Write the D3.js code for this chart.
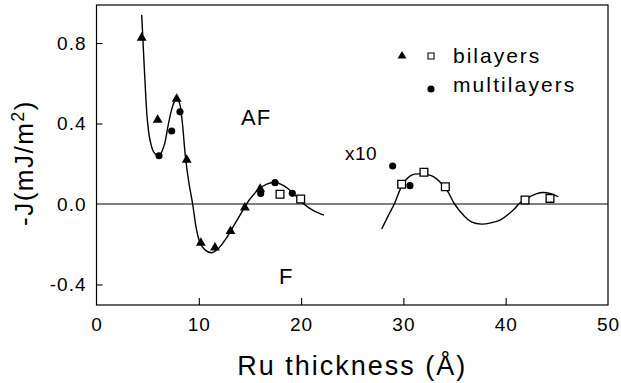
<!DOCTYPE html>
<html>
<head>
<meta charset="utf-8">
<script src="https://cdn.jsdelivr.net/npm/d3@7"></script>
<style>
  html, body { margin: 0; padding: 0; background: #fff; }
  svg { display: block; font-family: "Liberation Sans", Arial, Helvetica, sans-serif; }
</style>
</head>
<body>
<div id="chart"></div>
<script>
// data (x = Ru thickness in Å, y = -J in mJ/m2)
const triangles = [
    [4.42, 0.826], [5.98, 0.418], [7.84, 0.522], [8.82, 0.219],
    [10.2, -0.194], [11.58, -0.217], [13.1, -0.135], [14.5, -0.018], [16.0, 0.075]
];
const circles = [
    [6.11, 0.24], [7.35, 0.363], [8.16, 0.458], [16.05, 0.052],
    [17.45, 0.106], [19.14, 0.053], [28.95, 0.189], [30.64, 0.091]
];
const squares = [
    [17.94, 0.048], [19.96, 0.025], [29.83, 0.098], [32.01, 0.158],
    [34.1, 0.086], [41.89, 0.02], [44.33, 0.028]
];
// fitted curve, first branch (as drawn)
const fitShort = [
    [4.42, 0.94], [4.7, 0.65], [4.97, 0.418], [5.23, 0.318], [5.6, 0.258], [6.11, 0.24],
    [6.6, 0.29], [7.0, 0.39], [7.35, 0.47], [7.65, 0.512], [7.9, 0.522], [8.15, 0.495],
    [8.4, 0.40], [8.7, 0.23], [9.05, 0.1], [9.4, 0.0], [9.75, -0.12], [10.1, -0.19],
    [10.6, -0.228], [11.26, -0.242], [11.9, -0.222], [12.56, -0.18], [13.1, -0.135],
    [13.8, -0.075], [14.52, -0.013], [15.0, 0.025], [15.98, 0.078], [16.7, 0.1],
    [17.4, 0.108], [18.2, 0.094], [19.08, 0.061], [20.2, 0.003], [21.2, -0.033], [22.24, -0.055]
];
// fitted curve, second branch (x10 scale)
const fitLong = [
    [27.88, -0.124], [28.5, -0.06], [29.11, 0.0], [29.99, 0.103], [30.81, 0.144],
    [31.79, 0.149], [32.93, 0.136], [34.23, 0.07], [35.0, 0.0], [35.86, -0.055],
    [36.7, -0.09], [37.65, -0.1], [38.6, -0.093], [39.44, -0.08], [40.74, -0.03],
    [41.4, 0.006], [42.37, 0.036], [43.35, 0.056], [44.33, 0.053], [45.14, 0.036]
];
const xTicks = [0, 10, 20, 30, 40, 50];
const yTicks = [-0.4, 0.0, 0.4, 0.8];

const W = 621, H = 383;
const plot = {left: 96.5, right: 608, top: 5, bottom: 305};

const svg = d3.select("#chart").append("svg")
    .attr("width", W)
    .attr("height", H);

const x = d3.scaleLinear().domain([0, 50]).range([plot.left, plot.right]);
const y = d3.scaleLinear().domain([-0.502, 0.989]).range([plot.bottom, plot.top]);

// frame
svg.append("rect")
    .attr("x", plot.left)
    .attr("y", plot.top)
    .attr("width", plot.right - plot.left)
    .attr("height", plot.bottom - plot.top)
    .attr("fill", "none")
    .attr("stroke", "#000")
    .attr("stroke-width", 1.2);

// axes, ticks pointing inward
const fmtY = d => d3.format(".1f")(d).replace("\u2212", "-");
const xAxis = svg.append("g")
    .attr("transform", `translate(0,${plot.bottom})`)
    .call(d3.axisBottom(x).tickValues(xTicks).tickSizeInner(-7).tickSizeOuter(0).tickPadding(13)
        .tickFormat(d3.format("d")));
const yAxis = svg.append("g")
    .attr("transform", `translate(${plot.left},0)`)
    .call(d3.axisLeft(y).tickValues(yTicks).tickSizeInner(-6).tickSizeOuter(0).tickPadding(10)
        .tickFormat(fmtY));

[xAxis, yAxis].forEach(g => {
    g.select(".domain").remove();
    g.selectAll(".tick line").attr("stroke", "#000").attr("stroke-width", 1.1);
    g.selectAll(".tick text")
        .attr("fill", "#000")
        .style("font-size", "19px")
        .style("letter-spacing", "1px");
});
xAxis.selectAll(".tick line").filter(d => d === 0 || d === 50).remove();
yAxis.selectAll(".tick line").filter(d => d === 0).remove();

// zero line
svg.append("line")
    .attr("x1", plot.left).attr("x2", plot.right)
    .attr("y1", y(0)).attr("y2", y(0))
    .attr("stroke", "#000")
    .attr("stroke-width", 1.1);

// fitted curves
const line = d3.line()
    .x(d => x(d[0]))
    .y(d => y(d[1]))
    .curve(d3.curveCatmullRom.alpha(0.5));

[fitShort, fitLong].forEach(pts => {
    svg.append("path")
        .datum(pts)
        .attr("d", line)
        .attr("fill", "none")
        .attr("stroke", "#000")
        .attr("stroke-width", 1.4);
});

// markers
const tri = d3.symbol().type(d3.symbolTriangle).size(42);
const dot = d3.symbol().type(d3.symbolCircle).size(40);
const sq = d3.symbol().type(d3.symbolSquare).size(60);

svg.selectAll(".sq")
    .data(squares)
    .enter()
    .append("path")
    .attr("class", "sq")
    .attr("d", sq)
    .attr("transform", d => `translate(${x(d[0])},${y(d[1])})`)
    .attr("fill", "#fff")
    .attr("stroke", "#000")
    .attr("stroke-width", 1.3);

svg.selectAll(".tri")
    .data(triangles)
    .enter()
    .append("path")
    .attr("class", "tri")
    .attr("d", tri)
    .attr("transform", d => `translate(${x(d[0])},${y(d[1])})`)
    .attr("fill", "#000");

svg.selectAll(".dot")
    .data(circles)
    .enter()
    .append("path")
    .attr("class", "dot")
    .attr("d", dot)
    .attr("transform", d => `translate(${x(d[0])},${y(d[1])})`)
    .attr("fill", "#000");

// legend
const legend = svg.append("g");
legend.append("path")
    .attr("d", d3.symbol().type(d3.symbolTriangle).size(34))
    .attr("transform", "translate(402,56)")
    .attr("fill", "#000");
legend.append("path")
    .attr("d", d3.symbol().type(d3.symbolSquare).size(36))
    .attr("transform", "translate(431,56)")
    .attr("fill", "#fff")
    .attr("stroke", "#000")
    .attr("stroke-width", 1.1);
legend.append("path")
    .attr("d", d3.symbol().type(d3.symbolCircle).size(40))
    .attr("transform", "translate(431,89)")
    .attr("fill", "#000");
legend.append("text")
    .attr("x", 453).attr("y", 63)
    .style("font-size", "21px")
    .style("letter-spacing", "2px")
    .text("bilayers");
legend.append("text")
    .attr("x", 453).attr("y", 92)
    .style("font-size", "21px")
    .style("letter-spacing", "2.1px")
    .text("multilayers");

// annotations
svg.append("text")
    .attr("x", 241).attr("y", 125)
    .style("font-size", "22px")
    .style("letter-spacing", "1px")
    .text("AF");
svg.append("text")
    .attr("x", 279).attr("y", 284)
    .style("font-size", "22px")
    .text("F");
svg.append("text")
    .attr("x", 345).attr("y", 160)
    .style("font-size", "19px")
    .style("letter-spacing", "0.5px")
    .text("x10");

// axis titles
svg.append("text")
    .attr("x", (plot.left + plot.right) / 2)
    .attr("y", 375)
    .attr("text-anchor", "middle")
    .style("font-size", "27px")
    .style("letter-spacing", "2px")
    .text("Ru thickness (\u00C5)");

const yTitle = svg.append("text")
    .attr("transform", "translate(33,163) rotate(-90)")
    .attr("text-anchor", "middle")
    .style("font-size", "26px")
    .style("letter-spacing", "1.5px");
yTitle.append("tspan").text("-J(mJ/m");
yTitle.append("tspan").attr("dy", -9).style("font-size", "18px").text("2");
yTitle.append("tspan").attr("dy", 9).text(")");
</script>
</body>
</html>
